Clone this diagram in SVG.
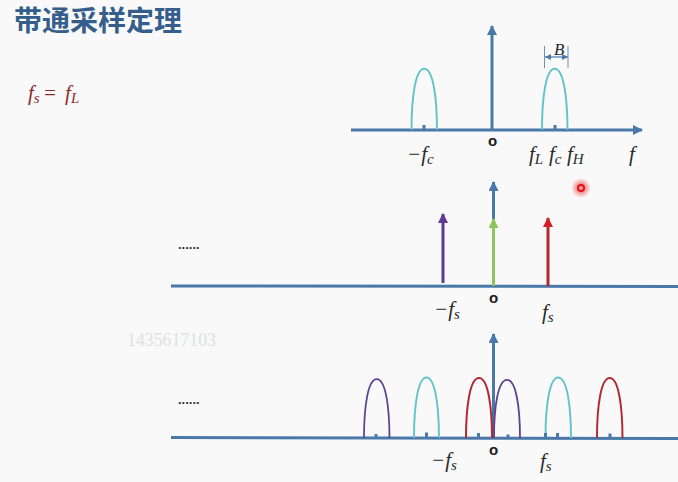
<svg xmlns="http://www.w3.org/2000/svg" width="678" height="482" viewBox="0 0 678 482">
<defs>
<radialGradient id="glow"><stop offset="0.35" stop-color="#ef5a5f" stop-opacity="0.75"/><stop offset="1" stop-color="#ef5a5f" stop-opacity="0"/></radialGradient>
<marker id="ab" markerUnits="userSpaceOnUse" markerWidth="10" markerHeight="10" refX="9" refY="5" orient="auto"><path d="M0 0L10 5L0 10Z" fill="#4a78a8"/></marker>
<marker id="ap" markerUnits="userSpaceOnUse" markerWidth="10" markerHeight="10" refX="9" refY="5" orient="auto"><path d="M0 0L10 5L0 10Z" fill="#5e3a94"/></marker>
<marker id="ag" markerUnits="userSpaceOnUse" markerWidth="10" markerHeight="10" refX="9" refY="5" orient="auto"><path d="M0 0L10 5L0 10Z" fill="#8fc35f"/></marker>
<marker id="ar" markerUnits="userSpaceOnUse" markerWidth="10" markerHeight="10" refX="9" refY="5" orient="auto"><path d="M0 0L10 5L0 10Z" fill="#d41f26"/></marker>
<path id="arch" d="M0 0C0 -32 4 -60 13 -60C22 -60 26 -32 26 0"/>
</defs>
<style>
.axis{stroke:#4a78a8;stroke-width:3;fill:none}
.tick{stroke:#4a78a8;stroke-width:3;fill:none}
.c{stroke:#62c4cd;stroke-width:2;fill:none}
.p{stroke:#5e4390;stroke-width:1.8;fill:none}
.r{stroke:#b02a35;stroke-width:2;fill:none}
.m{font-family:"Liberation Serif",serif;font-style:italic;font-size:21px;fill:#2a2a2a}
.sub{font-size:15px}
.o{font-family:"Liberation Sans",sans-serif;font-size:15px;font-weight:bold;fill:#1c1c1c}
.dots{font-family:"Liberation Sans",sans-serif;font-size:13px;font-weight:bold;fill:#333}
</style>
<rect width="678" height="482" fill="#f8f9f8"/>
<text x="14" y="31" font-family="'Noto Sans CJK SC',sans-serif" font-weight="700" font-size="28" fill="#355e8c">带通采样定理</text>
<text x="28" y="100" class="m" style="fill:#8c2a2a">f<tspan class="sub" dy="3">s</tspan><tspan dx="3" dy="-3">=</tspan><tspan dx="3"> f</tspan><tspan class="sub" dy="3">L</tspan></text>
<text x="127" y="346" font-family="'Liberation Serif',serif" font-size="17.800" fill="#dfe1e1">1435617103</text>
<text x="178" y="249" class="dots">......</text>
<text x="178" y="404" class="dots">......</text>

<g id="connectors">
<line class="axis" x1="351" y1="130" x2="642" y2="130" marker-end="url(#ab)"/>
<line class="axis" x1="492" y1="130" x2="492" y2="26" marker-end="url(#ab)"/>
<line class="axis" x1="171" y1="286" x2="678" y2="286.500"/>
<line class="axis" x1="493.500" y1="286" x2="493.500" y2="182" marker-end="url(#ab)"/>
<line x1="443" y1="283" x2="443" y2="214" stroke="#5e3a94" stroke-width="3" marker-end="url(#ap)"/>
<line x1="493.500" y1="286" x2="493.500" y2="219" stroke="#8fc35f" stroke-width="3" marker-end="url(#ag)"/>
<line x1="548" y1="286" x2="548" y2="218" stroke="#b02a30" stroke-width="3" marker-end="url(#ar)"/>
<line class="axis" x1="171" y1="437.500" x2="678" y2="438.500"/>
<line class="axis" x1="493.500" y1="438" x2="493.500" y2="334" marker-end="url(#ab)"/>
<line x1="544.500" y1="46" x2="544.500" y2="68" stroke="#6f8fae" stroke-width="1"/>
<line x1="568" y1="46" x2="568" y2="68" stroke="#6f8fae" stroke-width="1"/>
<line x1="545" y1="57" x2="568" y2="57" stroke="#4a78a8" stroke-width="1.200"/>
<path d="M551 54L545 57L551 60Z M562 54L568 57L562 60Z" fill="#4a78a8"/>
</g>

<g id="spectrum-top">
<use href="#arch" class="c" transform="translate(411.500 130) scale(0.98 1.02)"/>
<use href="#arch" class="c" transform="translate(542 130) scale(0.98 1.02)"/>
<path class="tick" d="M424 130V125M555 130V125"/>
<text x="407" y="161" class="m">−f<tspan class="sub" dy="3">c</tspan></text>
<text x="529" y="161" class="m">f<tspan class="sub" dy="3">L</tspan></text>
<text x="549" y="161" class="m">f<tspan class="sub" dy="3">c</tspan></text>
<text x="567" y="161" class="m">f<tspan class="sub" dy="3">H</tspan></text>
<text x="629" y="161" class="m">f</text>
<text x="554" y="55" class="m" style="font-size:17px">B</text>
<text x="488" y="146" class="o">o</text>
</g>

<g id="impulses">
<text x="489" y="303" class="o">o</text>
<text x="434" y="316" class="m">−f<tspan class="sub" dy="3">s</tspan></text>
<text x="542" y="319" class="m">f<tspan class="sub" dy="3">s</tspan></text>
</g>

<g id="spectrum-bottom">
<use href="#arch" class="p" transform="translate(364 438) scale(0.98 0.98)"/>
<use href="#arch" class="c" transform="translate(414 438) scale(0.96 1.01)"/>
<use href="#arch" class="r" transform="translate(466 438) scale(1 1)"/>
<use href="#arch" class="p" transform="translate(494 438) scale(1 0.97)"/>
<use href="#arch" class="c" transform="translate(545.500 438) scale(0.98 1.01)"/>
<use href="#arch" class="r" transform="translate(597 438) scale(0.98 1)"/>
<path class="tick" d="M376 439V434M426.500 438V432.500M478.500 438V433M508 438V434.500M545.500 438V433M557.500 438V433M610 438V433.500"/>
<text x="489" y="455" class="o">o</text>
<text x="431" y="467" class="m">−f<tspan class="sub" dy="3">s</tspan></text>
<text x="540" y="468" class="m">f<tspan class="sub" dy="3">s</tspan></text>
</g>

<g id="pointer">
<circle cx="581" cy="188" r="10" fill="url(#glow)"/>
<circle cx="581" cy="188" r="3" fill="#f4a0a0" stroke="#e3121c" stroke-width="2"/>
</g>
</svg>
